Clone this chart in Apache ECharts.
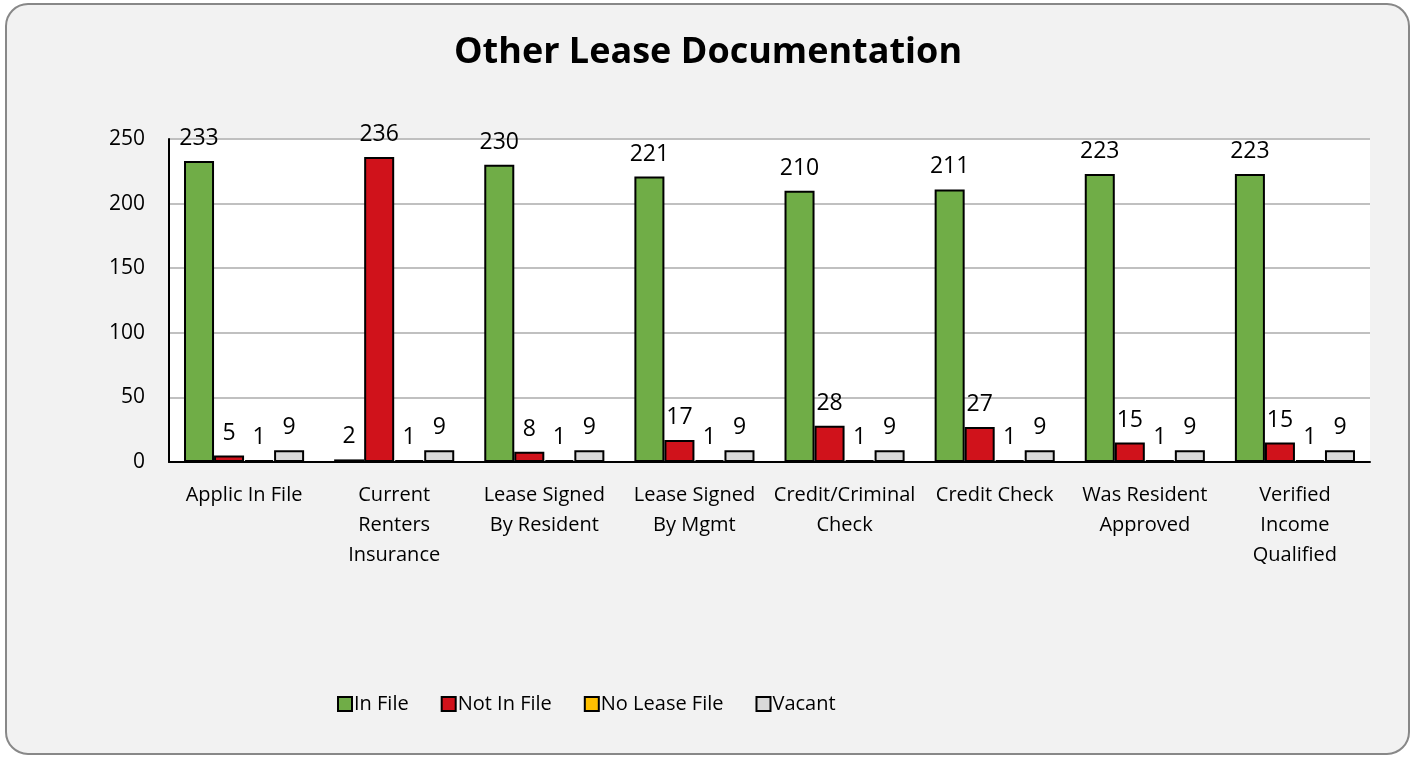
<!DOCTYPE html>
<html>
<head>
<meta charset="utf-8">
<style>
  html, body { margin: 0; padding: 0; background: #fff; }
  #chart { width: 1416px; height: 761px; }
</style>
<script src="https://cdn.jsdelivr.net/npm/echarts@6/dist/echarts.min.js"></script>
</head>
<body>
<div id="chart"></div>
<script>
    // data
    const categories = ['Applic In File', 'Current\nRenters\nInsurance', 'Lease Signed\nBy Resident',
        'Lease Signed\nBy Mgmt', 'Credit/Criminal\nCheck', 'Credit Check', 'Was Resident\nApproved',
        'Verified\nIncome\nQualified'];
    const inFile = [233, 2, 230, 221, 210, 211, 223, 223];
    const notInFile = [5, 236, 8, 17, 28, 27, 15, 15];
    const noLeaseFile = [1, 1, 1, 1, 1, 1, 1, 1];
    const vacant = [9, 9, 9, 9, 9, 9, 9, 9];
    const yTicks = [0, 50, 100, 150, 200, 250];

    const font = '"Open Sans", sans-serif';
    const myChart = echarts.init(document.getElementById('chart'));

    function bar(name, data, color) {
        return {
            name: name,
            type: 'bar',
            data: data,
            barGap: '0%',
            barCategoryGap: '20%',
            barMinHeight: 2,
            itemStyle: { color: color, borderColor: '#000', borderWidth: 2 },
            label: {
                show: true,
                position: 'top',
                distance: 11,
                color: '#000',
                fontFamily: font,
                fontSize: 23
            }
        };
    }

    const option = {
        backgroundColor: '#fff',
        animation: false,
        graphic: [{
            type: 'rect',
            z: -10,
            shape: { x: 6, y: 4, width: 1403, height: 750, r: 22 },
            style: { fill: '#f2f2f2', stroke: '#888', lineWidth: 2 }
        }],
        title: {
            text: 'Other Lease Documentation',
            left: 'center',
            top: 30,
            textStyle: { fontFamily: font, fontWeight: 'bold', fontSize: 36, color: '#000' }
        },
        legend: {
            top: 689,
            left: 332,
            itemWidth: 14,
            itemHeight: 14,
            itemGap: 32,
            icon: 'rect',
            textStyle: { fontFamily: font, fontSize: 20, color: '#000', padding: [0, 0, 0, -3] },
            itemStyle: { borderColor: '#000', borderWidth: 2 }
        },
        grid: {
            left: 169,
            right: 46,
            top: 139,
            bottom: 299,
            show: true,
            backgroundColor: '#fff',
            borderWidth: 0
        },
        xAxis: {
            type: 'category',
            data: categories,
            axisLine: { lineStyle: { color: '#000', width: 2 } },
            axisTick: { show: false },
            axisLabel: { color: '#000', fontFamily: font, fontSize: 20, lineHeight: 30, margin: 18, interval: 0 }
        },
        yAxis: {
            type: 'value',
            min: yTicks[0],
            max: yTicks[yTicks.length - 1],
            interval: 50,
            axisLine: { show: true, lineStyle: { color: '#000', width: 2 } },
            axisTick: { show: false },
            axisLabel: { color: '#000', fontFamily: font, fontSize: 21, margin: 24 },
            splitLine: { lineStyle: { color: '#c0c0c0', width: 2 } }
        },
        series: [
            bar('In File', inFile, '#70ad47'),
            bar('Not In File', notInFile, '#d0121b'),
            bar('No Lease File', noLeaseFile, '#ffc000'),
            bar('Vacant', vacant, '#d9d9d9')
        ]
    };

    myChart.setOption(option);
</script>
</body>
</html>
